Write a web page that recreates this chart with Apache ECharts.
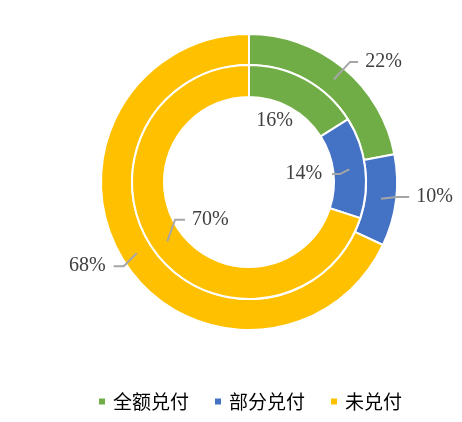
<!DOCTYPE html>
<html>
<head>
<meta charset="utf-8">
<script src="https://cdn.jsdelivr.net/npm/echarts@6/dist/echarts.min.js"></script>
<style>
html,body{margin:0;padding:0;background:#fff;}
#chart{width:462px;height:422px;}
</style>
</head>
<body>
<div id="chart"></div>
<script>
// ---- data ----
const categories = ['全额兑付', '部分兑付', '未兑付'];
const outerValues = [22, 10, 68];
const innerValues = [16, 14, 70];

// ---- styling / layout ----
const colors = ['#70AD47', '#4472C4', '#FFC000'];
const CX = 249, CY = 182;
const outerRadius = [117, 148];
const innerRadius = [85, 117];
// label anchor placement: angle offset from slice middle (deg), elbow radius, horizontal run, side, text gap
const outerLabelSpots = [
  { da: 0.5, r: 157, run: 8, side: 1, gap: 7, line: true },
  { da: -1.4, r: 148, run: 13, side: 1, gap: 7, line: true },
  { da: -1.5, r: 151, run: 10, side: -1, gap: 8, line: true }
];
const innerLabelSpots = [
  { da: -6, r: 66, run: 0, side: 0, gap: 0, line: false },
  { da: 2.2, r: 91.4, run: 8, side: -1, gap: 10, line: true },
  { da: 9, r: 83, run: 10, side: 1, gap: 7, line: true }
];

function midAngle(values, idx) {
  const total = values.reduce((a, b) => a + b, 0);
  let acc = 0;
  for (let i = 0; i < idx; i++) acc += values[i];
  return (acc + values[idx] / 2) / total * 360;
}
function polar(angDeg, r) {
  const a = angDeg * Math.PI / 180;
  return [CX + r * Math.sin(a), CY - r * Math.cos(a)];
}
function makeLayout(values, spots, startR) {
  return function (params) {
    const i = params.dataIndex;
    const s = spots[i];
    const m = midAngle(values, i);
    const elbow = polar(m + s.da, s.r);
    if (!s.line) {
      return { x: elbow[0], y: elbow[1], align: 'center', verticalAlign: 'middle' };
    }
    const start = polar(m, startR);
    const end = [elbow[0] + s.side * s.run, elbow[1]];
    return {
      x: end[0] + s.side * s.gap,
      y: end[1],
      align: s.side > 0 ? 'left' : 'right',
      verticalAlign: 'middle',
      labelLinePoints: [start, elbow, end]
    };
  };
}

const labelStyle = {
  show: true,
  position: 'outside',
  formatter: '{c}%',
  fontFamily: '"Liberation Serif", "Times New Roman", serif',
  fontSize: 20,
  color: '#404040'
};
const lineStyle = { show: true, length: 10, length2: 8, lineStyle: { color: '#A6A6A6', width: 2 } };

function buildData(values, spots, withColor) {
  return values.map((v, i) => ({
    name: categories[i],
    value: v,
    itemStyle: withColor ? { color: colors[i] } : { color: 'rgba(0,0,0,0)', borderWidth: 0 },
    labelLine: { show: spots[i].line }
  }));
}

function ringSeries(name, radius, values, spots) {
  return {
    name: name,
    type: 'pie',
    center: [CX, CY],
    radius: radius,
    startAngle: 90,
    clockwise: true,
    avoidLabelOverlap: false,
    z: 2,
    itemStyle: { borderColor: '#ffffff', borderWidth: 2 },
    label: { show: false },
    labelLine: { show: false },
    emphasis: { disabled: true },
    data: buildData(values, spots, true)
  };
}
// transparent overlay rings carry the labels so leader lines sit above the coloured rings
function labelSeries(name, radius, values, spots, startR) {
  return {
    name: name,
    type: 'pie',
    center: [CX, CY],
    radius: radius,
    startAngle: 90,
    clockwise: true,
    avoidLabelOverlap: false,
    silent: true,
    z: 5,
    legendHoverLink: false,
    itemStyle: { borderWidth: 0 },
    label: labelStyle,
    labelLine: lineStyle,
    labelLayout: makeLayout(values, spots, startR),
    emphasis: { disabled: true },
    data: buildData(values, spots, false)
  };
}

const chart = echarts.init(document.getElementById('chart'), null, { renderer: 'canvas' });
chart.setOption({
  animation: false,
  backgroundColor: '#ffffff',
  color: colors,
  legend: {
    data: categories.map((c, i) => ({ name: c, itemStyle: { color: colors[i] } })),
    left: 92,
    top: 387,
    icon: 'rect',
    itemWidth: 8,
    itemHeight: 8,
    itemGap: 24,
    textStyle: {
      fontFamily: '"Noto Sans CJK SC", sans-serif',
      fontSize: 19,
      color: '#000000',
      padding: [0, 0, 0, 2]
    }
  },
  series: [
    ringSeries('outer', outerRadius, outerValues, outerLabelSpots),
    ringSeries('inner', innerRadius, innerValues, innerLabelSpots),
    labelSeries('outerLabels', outerRadius, outerValues, outerLabelSpots, 133),
    labelSeries('innerLabels', innerRadius, innerValues, innerLabelSpots, 101)
  ]
});
</script>
</body>
</html>
